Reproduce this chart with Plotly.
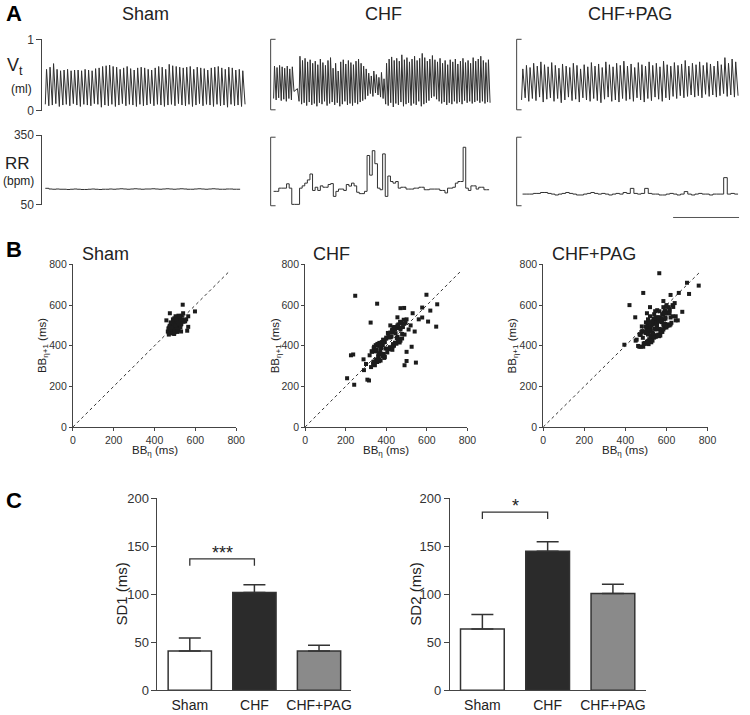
import plotly.graph_objects as go

# ---------------- DATA ----------------
groups = ["Sham", "CHF", "CHF+PAG"]

# Panel A - tidal volume (ml): per-breath peak and trough values
sham_vt_peak = [0.58,0.61,0.66,0.58,0.56,0.57,0.58,0.56,0.57,0.57,0.56,0.58,0.57,0.56,0.59,0.60,0.62,0.63,0.64,0.62,
                0.61,0.58,0.60,0.62,0.59,0.57,0.60,0.61,0.60,0.58,0.57,0.60,0.62,0.61,0.58,0.65,0.63,0.62,0.61,0.60,
                0.61,0.62,0.58,0.61,0.60,0.59,0.57,0.60,0.61,0.62,0.60,0.58,0.61,0.60,0.57,0.58,0.56]
sham_vt_trough = [0.09,0.07,0.08,0.10,0.06,0.08,0.09,0.07,0.10,0.08,0.06,0.09,0.08,0.07,0.10,0.09,0.05,0.08,0.07,0.09,
                  0.06,0.08,0.10,0.07,0.09,0.08,0.06,0.09,0.07,0.08,0.10,0.07,0.09,0.08,0.06,0.08,0.09,0.07,0.10,0.08,
                  0.07,0.09,0.06,0.08,0.10,0.07,0.09,0.08,0.06,0.09,0.07,0.08,0.05,0.09,0.07,0.08,0.06,0.09]
chf_vt_peak = [0.62,0.60,0.63,0.61,0.59,0.62,0.58,0.61,
               0.27,0.30,
               0.76,0.70,0.73,0.68,0.71,0.66,0.69,0.64,0.72,0.67,0.63,0.70,0.74,0.59,0.66,0.55,0.68,0.71,0.65,0.70,
               0.67,0.64,0.69,0.72,0.66,0.62,0.58,
               0.52,0.48,0.55,0.50,0.46,0.53,0.44,
               0.66,0.72,0.75,0.70,0.73,0.69,0.78,0.71,0.74,0.68,0.72,0.76,0.70,0.73,0.80,0.74,0.69,0.72,0.77,0.71,
               0.68,0.73,0.66,0.70,0.64,0.71,0.68,0.72,0.65,0.69,0.73,0.67,0.70,0.66,0.74,0.69,0.72,0.76,0.70,0.67,0.71]
chf_vt_trough = [0.16,0.14,0.17,0.13,0.15,0.12,0.16,0.14,
                 0.26,0.29,
                 0.12,0.08,0.10,0.06,0.11,0.07,0.09,0.05,0.10,0.08,0.12,0.06,0.09,0.11,0.07,0.10,0.05,0.08,0.12,0.07,
                 0.09,0.06,0.10,0.08,0.11,0.13,0.15,
                 0.20,0.23,0.19,0.24,0.21,0.18,0.16,
                 0.08,0.06,0.10,0.04,0.09,0.07,0.11,0.05,0.08,0.10,0.06,0.09,0.07,0.12,0.05,0.08,0.10,0.13,0.17,0.19,
                 0.15,0.12,0.09,0.11,0.07,0.10,0.08,0.12,0.09,0.11,0.08,0.13,0.10,0.12,0.09,0.11,0.13,0.10,0.12,0.09,0.11,0.10]
pag_vt_peak = [0.58,0.63,0.60,0.66,0.62,0.68,0.64,0.61,0.67,0.63,0.59,0.65,0.62,0.60,0.66,0.63,0.58,0.64,0.61,0.67,
               0.62,0.65,0.60,0.68,0.64,0.61,0.66,0.63,0.69,0.62,0.65,0.60,0.67,0.64,0.62,0.68,0.63,0.66,0.61,0.69,
               0.64,0.62,0.67,0.63,0.65,0.70,0.62,0.66,0.64,0.68,0.63,0.67,0.65,0.62,0.69,0.64,0.74,0.66,0.72,0.68]
pag_vt_trough = [0.14,0.17,0.12,0.16,0.13,0.18,0.11,0.15,0.17,0.12,0.16,0.10,0.14,0.18,0.13,0.15,0.11,0.17,0.14,0.12,
                 0.16,0.13,0.10,0.15,0.18,0.12,0.14,0.11,0.16,0.13,0.15,0.12,0.17,0.14,0.11,0.16,0.13,0.18,0.15,0.12,
                 0.17,0.14,0.19,0.16,0.20,0.17,0.19,0.21,0.18,0.20,0.17,0.22,0.19,0.21,0.18,0.20,0.23,0.19,0.21,0.18,0.20]

# Panel A - respiratory rate (bpm), step values
sham_rr = [121,118,117,118,117,117,116,117,118,117,116,116,117,118,117,116,117,117,118,117,118,119,118,117,118,
           119,118,117,118,118,119,118,117,118,119,118,117,118,119,118,117,117,118,119,118,117,118,119,118,117,
           117,118,118,117,117]
chf_rr = [113,113,127,127,127,146,127,56,56,56,127,137,149,163,189,117,131,117,137,131,131,143,147,91,113,
          123,123,117,143,136,149,137,109,103,103,113,270,184,291,234,127,120,277,91,180,156,149,156,127,131,
          131,123,123,123,127,127,131,131,120,120,123,123,123,123,117,117,106,127,127,131,149,156,156,306,127,
          117,137,137,123,131,131,120,120]
pag_rr = [101,101,101,104,104,108,108,104,101,97,101,104,108,104,101,97,97,101,104,108,104,101,104,101,97,
          101,104,101,108,104,126,104,101,104,126,104,101,101,97,97,101,104,101,97,101,112,101,97,101,104,
          101,101,97,101,101,101,173,101,104,101]

# Panel B - Poincare pairs (BB_n, BB_n+1), ms
sham_bb_n = [465,472,478,483,488,492,496,500,504,508,512,516,520,525,530,536,542,
             468,475,481,486,490,494,498,502,506,510,514,518,523,528,534,540,
             470,477,484,489,493,497,501,505,509,513,517,521,527,533,
             474,480,487,491,495,499,503,507,511,515,519,524,531,
             479,485,490,496,501,506,511,517,522,
             538,598,565,565,560,458,550,540,475,530,555]
sham_bb_n1 = [470,490,462,495,475,510,484,520,493,478,530,497,514,540,505,527,518,
              485,463,500,470,513,488,466,525,498,542,508,486,535,512,548,525,
              455,472,508,480,497,535,478,511,489,523,548,503,490,530,
              498,482,461,524,503,470,545,505,515,478,538,520,508,
              515,489,530,458,500,530,468,512,545,
              602,569,545,493,474,525,520,560,560,470,530]

chf_bb_n = [318,325,330,335,338,342,345,348,350,352,355,357,360,362,364,366,368,370,372,375,378,380,383,385,388,
            390,393,396,400,405,328,336,344,351,358,365,372,379,386,393,340,356,371,387,362,
            400,405,410,413,416,420,423,426,430,433,436,440,443,446,450,453,456,460,463,466,470,474,478,482,486,
            490,495,500,408,418,428,438,448,458,468,478,488,422,432,444,455,466,436,452,470,
            247,355,488,598,577,617,651,577,606,646,323,226,237,207,242,307,315,490,500,525,546,288,560,520,540,
            500,430,455,470,300,290,420,530,510]
chf_bb_n1 = [353,295,370,310,388,322,373,403,332,382,320,409,348,400,324,414,363,400,327,390,418,348,403,430,360,
             340,418,386,435,367,373,321,304,373,408,330,402,359,428,345,395,331,379,417,360,
             440,385,458,383,441,465,388,446,480,408,466,492,415,461,410,488,444,505,433,488,425,512,458,492,528,
             455,513,530,463,393,476,400,488,428,518,436,508,442,397,479,500,416,491,437,480,
             646,607,586,651,588,573,604,539,519,494,514,353,357,240,208,233,229,304,325,395,317,333,530,500,470,
             370,380,540,585,310,280,500,560,480]

pag_bb_n = [470,482,495,503,511,520,528,536,545,552,560,567,575,583,590,598,606,615,624,633,
            478,489,500,509,517,526,534,541,549,557,565,572,580,588,596,604,612,620,
            462,475,487,498,507,516,524,532,540,548,556,564,571,579,587,595,603,611,
            485,497,506,514,523,531,539,547,555,563,570,578,586,594,602,
            492,504,513,522,530,538,546,554,562,569,577,585,593,
            455,468,530,545,560,575,590,520,540,555,570,585,600,615,630,645,500,510,
            480,495,510,525,540,555,570,585,600,615,505,535,565,595,620,
            395,420,448,470,487,565,620,640,655,660,677,700,710,757,615,600,630,645,450,475,520,545,505,585]
pag_bb_n1 = [456,472,413,487,424,490,437,512,447,528,455,537,474,553,489,563,499,573,513,591,
             468,411,494,414,471,417,504,483,445,540,483,532,468,529,564,505,560,539,
             399,453,395,463,504,432,476,425,518,480,521,447,521,555,499,533,499,590,
             439,410,473,515,448,506,450,536,483,520,466,516,564,507,562,
             410,462,408,496,464,534,451,502,537,481,535,505,574,
             430,395,520,445,540,470,560,545,440,575,450,590,490,500,600,545,515,455,
             495,470,530,500,555,450,520,480,600,560,420,460,570,540,505,
             405,600,540,455,660,757,650,610,525,660,567,710,655,696,580,592,545,525,425,395,590,570,560,620]
identity_line = [0, 765]
bb_ticks = [0, 200, 400, 600, 800]

# Panel C - Poincare descriptors (mean and SEM, ms)
sd1_mean = [41, 102, 41]
sd1_sem = [13.5, 8, 6]
sd2_mean = [64, 145, 101]
sd2_sem = [15, 10, 9.5]
sd_ticks = [0, 50, 100, 150, 200]
bar_colors = ["#ffffff", "#2b2b2b", "#8a8a8a"]

# ---------------- LAYOUT HELPERS ----------------
W, H = 750, 715
FONT = "Liberation Sans, Arial, sans-serif"
INK = "#222222"
AX = "#444444"


def fx(p):
    return p / W


def fy(p):
    return 1 - p / H


def xrange_for(n, dom, data):
    s = (data[1] - data[0]) / n
    return [-(data[0] - dom[0]) / s, n + (dom[1] - data[1]) / s]


def vt_xy(peaks, troughs):
    xs, ys = [], []
    for i, p in enumerate(peaks):
        xs += [i, i + 0.35]
        ys += [troughs[i], p]
    xs.append(len(peaks))
    ys.append(troughs[len(peaks)])
    return xs, ys


def rr_xy(vals):
    return list(range(len(vals) + 1)), list(vals) + [vals[-1]]


def bracket(x, top, bottom, tick=5):
    return dict(type="path", xref="paper", yref="paper",
                path=f"M {fx(x + tick)},{fy(top)} L {fx(x)},{fy(top)} L {fx(x)},{fy(bottom)} L {fx(x + tick)},{fy(bottom)}",
                line=dict(color=AX, width=1))


fig = go.Figure()
layout = dict(width=W, height=H, margin=dict(l=0, r=0, t=0, b=0),
              paper_bgcolor="white", plot_bgcolor="rgba(0,0,0,0)",
              showlegend=False, font=dict(family=FONT, color=INK))
annotations = []
shapes = []

# ---------------- PANEL A ----------------
vt_sets = [(sham_vt_peak, sham_vt_trough), (chf_vt_peak, chf_vt_trough), (pag_vt_peak, pag_vt_trough)]
rr_sets = [sham_rr, chf_rr, pag_rr]
a_dom_x = [(40, 248), (272, 497), (522, 749)]
vt_data_x = [(43, 246), (275, 495), (527, 747)]
rr_data_x = [(43, 241), (275, 494), (528, 747)]
vt_dom_y = [(33, 106), (33, 105), (33, 105)]
rr_dom_y = [(131, 202), (133, 203), (133, 203)]

for g in range(3):
    k = g + 1
    pk, tr = vt_sets[g]
    xs, ys = vt_xy(pk, tr)
    fig.add_trace(go.Scatter(x=xs, y=ys, mode="lines", line=dict(color="#303030", width=1),
                             xaxis=f"x{k}", yaxis=f"y{k}", hoverinfo="skip"))
    labeled = (g == 0)
    layout[f"xaxis{k}"] = dict(domain=[fx(a_dom_x[g][0]), fx(a_dom_x[g][1])],
                               range=xrange_for(len(pk), a_dom_x[g], vt_data_x[g]),
                               visible=False, anchor=f"y{k}")
    layout[f"yaxis{k}"] = dict(domain=[fy(vt_dom_y[g][1]), fy(vt_dom_y[g][0])], range=[0, 1],
                               anchor=f"x{k}", showline=labeled, linecolor=AX, linewidth=1,
                               ticks="outside" if labeled else "", ticklen=5, tickcolor=AX,
                               tickvals=[0, 1], showticklabels=labeled, showgrid=False, zeroline=False,
                               tickfont=dict(size=12, color="#333"))
    k2 = g + 4
    rx, ry = rr_xy(rr_sets[g])
    fig.add_trace(go.Scatter(x=rx, y=ry, mode="lines", line=dict(color="#303030", width=1, shape="hv"),
                             xaxis=f"x{k2}", yaxis=f"y{k2}", hoverinfo="skip"))
    layout[f"xaxis{k2}"] = dict(domain=[fx(a_dom_x[g][0]), fx(a_dom_x[g][1])],
                                range=xrange_for(len(rr_sets[g]), a_dom_x[g], rr_data_x[g]),
                                visible=False, anchor=f"y{k2}")
    layout[f"yaxis{k2}"] = dict(domain=[fy(rr_dom_y[g][1]), fy(rr_dom_y[g][0])], range=[50, 350],
                                anchor=f"x{k2}", showline=labeled, linecolor=AX, linewidth=1,
                                ticks="outside" if labeled else "", ticklen=5, tickcolor=AX,
                                tickvals=[50, 350], showticklabels=labeled, showgrid=False, zeroline=False,
                                tickfont=dict(size=12, color="#333"))
    if not labeled:
        shapes.append(bracket(a_dom_x[g][0], vt_dom_y[g][0], vt_dom_y[g][1]))
        shapes.append(bracket(a_dom_x[g][0], rr_dom_y[g][0], rr_dom_y[g][1]))

a_title_x = [145, 387, 637]
for g in range(3):
    annotations.append(dict(text=groups[g], x=fx(a_title_x[g]), y=fy(7), xanchor="center", yanchor="middle",
                            font=dict(size=18)))
annotations += [
    dict(text="<b>A</b>", x=fx(1), y=fy(7), xanchor="left", yanchor="middle", font=dict(size=22, color="#000")),
    dict(text="V<sub>t</sub>", x=fx(2), y=fy(61), xanchor="left", yanchor="middle", font=dict(size=18)),
    dict(text="(ml)", x=fx(19), y=fy(84), xanchor="center", yanchor="middle", font=dict(size=12)),
    dict(text="RR", x=fx(15), y=fy(160), xanchor="center", yanchor="middle", font=dict(size=17)),
    dict(text="(bpm)", x=fx(16), y=fy(178), xanchor="center", yanchor="middle", font=dict(size=12)),
]
shapes.append(dict(type="line", xref="paper", yref="paper", x0=fx(681), x1=fx(748), y0=fy(215), y1=fy(215),
                   line=dict(color="#555", width=1)))

# ---------------- PANEL B ----------------
bb_sets = [(sham_bb_n, sham_bb_n1), (chf_bb_n, chf_bb_n1), (pag_bb_n, pag_bb_n1)]
b_dom_x = [(71, 237), (307, 472), (549, 716)]
b_dom_y = (263, 429)
b_title_x = [78, 313, 556]
b_ytitle_x = [40, 277, 518]
for g in range(3):
    k = g + 7
    bx, by = bb_sets[g]
    fig.add_trace(go.Scatter(x=identity_line, y=identity_line, mode="lines",
                             line=dict(color="#333", width=1, dash="dot"),
                             xaxis=f"x{k}", yaxis=f"y{k}", hoverinfo="skip"))
    fig.add_trace(go.Scatter(x=bx, y=by, mode="markers",
                             marker=dict(symbol="square", size=4, color="#1c1c1c", line=dict(width=0)),
                             xaxis=f"x{k}", yaxis=f"y{k}", hoverinfo="skip", cliponaxis=False))
    common = dict(range=[0, 800], showline=True, linecolor=AX, linewidth=1, ticks="outside",
                  ticklen=3, tickcolor=AX, tickvals=bb_ticks, showgrid=False, zeroline=False,
                  tickfont=dict(size=10.5, color="#333"))
    layout[f"xaxis{k}"] = dict(domain=[fx(b_dom_x[g][0]), fx(b_dom_x[g][1])], anchor=f"y{k}", **common)
    layout[f"yaxis{k}"] = dict(domain=[fy(b_dom_y[1]), fy(b_dom_y[0])], anchor=f"x{k}", **common)
    annotations.append(dict(text=groups[g], x=fx(b_title_x[g]), y=fy(252), xanchor="left", yanchor="middle",
                            font=dict(size=18)))
    annotations.append(dict(text="BB<sub>\u03b7+1</sub> (ms)", x=fx(b_ytitle_x[g]), y=fy(346),
                            xanchor="center", yanchor="middle", textangle=-90, font=dict(size=11.5)))
    annotations.append(dict(text="BB<sub>\u03b7</sub> (ms)", x=fx((b_dom_x[g][0] + b_dom_x[g][1]) / 2),
                            y=fy(454), xanchor="center", yanchor="middle", font=dict(size=11.5)))
annotations.append(dict(text="<b>B</b>", x=fx(1), y=fy(248), xanchor="left", yanchor="middle",
                        font=dict(size=22, color="#000")))

# ---------------- PANEL C ----------------
c_sets = [(sd1_mean, sd1_sem, "SD1 (ms)"), (sd2_mean, sd2_sem, "SD2 (ms)")]
c_dom_x = [(157, 354), (454, 653)]
c_dom_y = (502, 698)
c_ytitle_x = [120, 419]
for j in range(2):
    k = j + 10
    mean, sem, title = c_sets[j]
    fig.add_trace(go.Bar(x=[0, 1, 2], y=mean, width=0.67,
                         marker=dict(color=bar_colors, line=dict(color="#333", width=1.5)),
                         error_y=dict(type="data", array=sem, arrayminus=[0, 0, 0], symmetric=False,
                                      color="#333", thickness=1.5, width=11),
                         xaxis=f"x{k}", yaxis=f"y{k}", hoverinfo="skip"))
    layout[f"xaxis{k}"] = dict(domain=[fx(c_dom_x[j][0]), fx(c_dom_x[j][1])], anchor=f"y{k}",
                               range=[-0.5, 2.5], tickvals=[0, 1, 2], ticktext=groups, ticks="",
                               ticklabelstandoff=2,
                               showline=True, linecolor=AX, linewidth=1, showgrid=False, zeroline=False,
                               tickfont=dict(size=14, color="#222"))
    layout[f"yaxis{k}"] = dict(domain=[fy(c_dom_y[1]), fy(c_dom_y[0])], anchor=f"x{k}", range=[0, 200],
                               tickvals=sd_ticks, ticks="outside", ticklen=5, tickcolor=AX,
                               showline=True, linecolor=AX, linewidth=1, showgrid=False, zeroline=False,
                               tickfont=dict(size=13, color="#333"))
    annotations.append(dict(text=title, x=fx(c_ytitle_x[j]), y=fy(600), xanchor="center", yanchor="middle",
                            textangle=-90, font=dict(size=15)))
annotations.append(dict(text="<b>C</b>", x=fx(1), y=fy(504), xanchor="left", yanchor="middle",
                        font=dict(size=22, color="#000")))

# significance brackets (in data coordinates of each bar chart)
sig = [("x10", "y10", 130, 137, "***"), ("x11", "y11", 178.6, 185.8, "*")]
for xr, yr, lo, hi, txt in sig:
    shapes.append(dict(type="path", xref=xr, yref=yr,
                       path=f"M 0,{lo} L 0,{hi} L 1,{hi} L 1,{lo}",
                       line=dict(color="#333", width=1.3)))
    annotations.append(dict(text=txt, x=0.5, y=hi, xref=xr, yref=yr, xanchor="center", yanchor="bottom",
                            yshift=-6, font=dict(size=18, color="#222")))

for a in annotations:
    a.setdefault("xref", "paper")
    a.setdefault("yref", "paper")
    a.setdefault("showarrow", False)
layout["annotations"] = annotations
layout["shapes"] = shapes
fig.update_layout(**layout)
fig.write_html("out.html", config={"displayModeBar": False},
               post_script="document.body.style.margin='0px';document.body.style.overflow='hidden';")
